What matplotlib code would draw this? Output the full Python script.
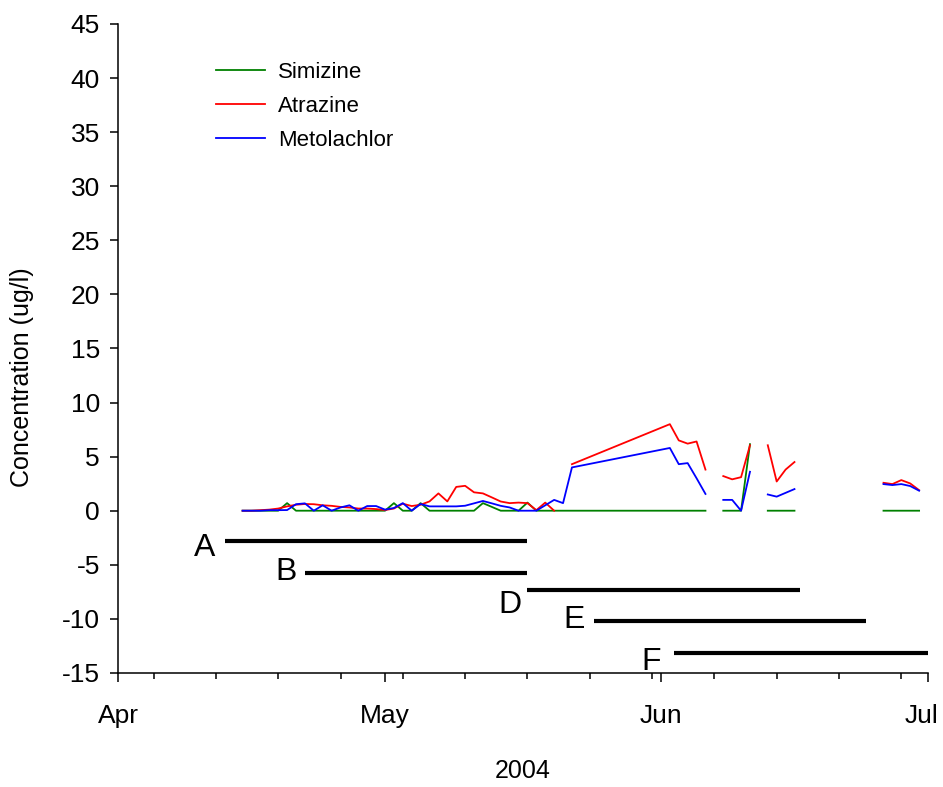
import numpy as np
import pandas as pd
import matplotlib
matplotlib.use("Agg")
import matplotlib.pyplot as plt
import matplotlib.dates as mdates
import matplotlib.transforms as mtransforms

plt.rcParams['font.family'] = ['Liberation Sans', 'DejaVu Sans']
plt.rcParams['axes.unicode_minus'] = False
nan = np.nan

# sampling dates (three runs of daily samples, NaN entries break the line)
dates = np.concatenate([
    pd.date_range("2004-04-15", "2004-05-22"),
    pd.date_range("2004-06-02", "2004-06-17"),
    pd.date_range("2004-06-26", "2004-06-30"),
])

simizine = [0, 0, 0, 0, 0, 0.7, 0, 0, 0, 0, 0, 0, 0, 0, 0, 0, 0, 0.7, 0, 0,
            0.7, 0, 0, 0, 0, 0, 0, 0.7, 0.35, 0, 0, 0, 0.75, 0, 0, 0, 0, 0,
            0, 0, 0, 0, 0, nan, 0, 0, 0, 6.15, nan, 0, 0, 0, 0, nan,
            0, 0, 0, 0, 0]
atrazine = [0, 0, 0.05, 0.1, 0.2, 0.4, 0.55, 0.62, 0.6, 0.5, 0.45, 0.35, 0.3, 0.2,
            0.2, 0.15, 0.06, 0.2, 0.65, 0.43, 0.55, 0.86, 1.6, 0.86, 2.2, 2.3, 1.7,
            1.6, 1.23, 0.85, 0.7, 0.75, 0.7, 0.05, 0.75, 0, nan, 4.3,
            8.0, 6.5, 6.2, 6.4, 3.8, nan, 3.2, 2.9, 3.1, 6.05, nan, 6.05, 2.7, 3.8, 4.5, nan,
            2.58, 2.46, 2.83, 2.52, 1.9]
metolachlor = [0, 0, 0, 0.05, 0.05, 0.06, 0.6, 0.68, 0, 0.5, 0, 0.3, 0.5, 0, 0.43,
               0.43, 0.1, 0.25, 0.7, 0, 0.62, 0.4, 0.4, 0.4, 0.4, 0.46, 0.68, 0.9,
               0.68, 0.45, 0.3, 0, 0, 0, 0.5, 1.0, 0.7, 4.0,
               5.8, 4.3, 4.4, 3.0, 1.55, nan, 1.0, 1.0, 0, 3.6, nan, 1.5, 1.3, 1.65, 2.0, nan,
               2.46, 2.37, 2.46, 2.28, 1.85]

# period bars
period_labels = ["A", "B", "D", "E", "F"]
period_start = ["2004-04-13", "2004-04-22", "2004-05-17", "2004-05-24 12:00", "2004-06-02 10:00"]
period_end = ["2004-05-17", "2004-05-17", "2004-06-16 16:00", "2004-06-24", "2004-07-01"]
period_level = [-2.8, -5.8, -7.3, -10.2, -13.2]
label_offsets = [(-7, -5), (-6, 1), (-4, -11), (-6.5, 1), (-9, -6)]

fig = plt.figure(figsize=(9.43, 7.87), dpi=100)
ax = fig.add_axes([0.1251, 0.1449, 0.859, 0.8247])

ax.plot(dates, simizine, color="#008000", lw=1.3, label="Simizine")
ax.plot(dates, atrazine, color="#ff0000", lw=1.3, label="Atrazine")
ax.plot(dates, metolachlor, color="#0000ff", lw=1.3, label="Metolachlor")

for lab, s, e, lv, off in zip(period_labels, period_start, period_end, period_level, label_offsets):
    s, e = pd.Timestamp(s), pd.Timestamp(e)
    ax.plot([s, e], [lv, lv], color="black", lw=3, solid_capstyle="butt")
    ax.annotate(lab, xy=(s, lv), xytext=off, textcoords="offset points",
                ha="right", va="center", fontsize=23)

ax.set_xlim(pd.Timestamp("2004-04-01"), pd.Timestamp("2004-07-01"))
ax.set_ylim(-15, 45)
ax.set_yticks(range(-15, 50, 5))
ax.xaxis.set_major_locator(mdates.MonthLocator())
ax.xaxis.set_major_formatter(mdates.DateFormatter("%b"))
ax.xaxis.set_minor_locator(mdates.WeekdayLocator(byweekday=mdates.MO))

for side in ["top", "right"]:
    ax.spines[side].set_visible(False)
for side in ["left", "bottom"]:
    ax.spines[side].set_linewidth(1.1)

ax.tick_params(axis="y", which="major", direction="out", length=6, width=1.1, labelsize=19, pad=7)
ax.tick_params(axis="x", which="major", direction="out", length=6.5, width=1.1, labelsize=19, pad=16)
ax.tick_params(axis="x", which="minor", direction="out", length=4, width=1.1)

ax.set_xlabel("2004", fontsize=18, labelpad=22)
ax.set_ylabel("Concentration (ug/l)", fontsize=18)
ax.yaxis.set_label_coords(-0.104, 0.456)

ax.legend(loc="upper left", bbox_to_anchor=(0.121, 0.942), frameon=False, fontsize=16,
          handlelength=2.2, handletextpad=0.6, labelspacing=0.6, borderaxespad=0, borderpad=0)

# nudge the "Jul" label left so it stays inside the figure
fig.canvas.draw()
last = ax.xaxis.get_major_ticks()[-1].label1
last.set_transform(last.get_transform() + mtransforms.ScaledTranslation(-5 / 72, 0, fig.dpi_scale_trans))

fig.savefig("out.png", dpi=100)
